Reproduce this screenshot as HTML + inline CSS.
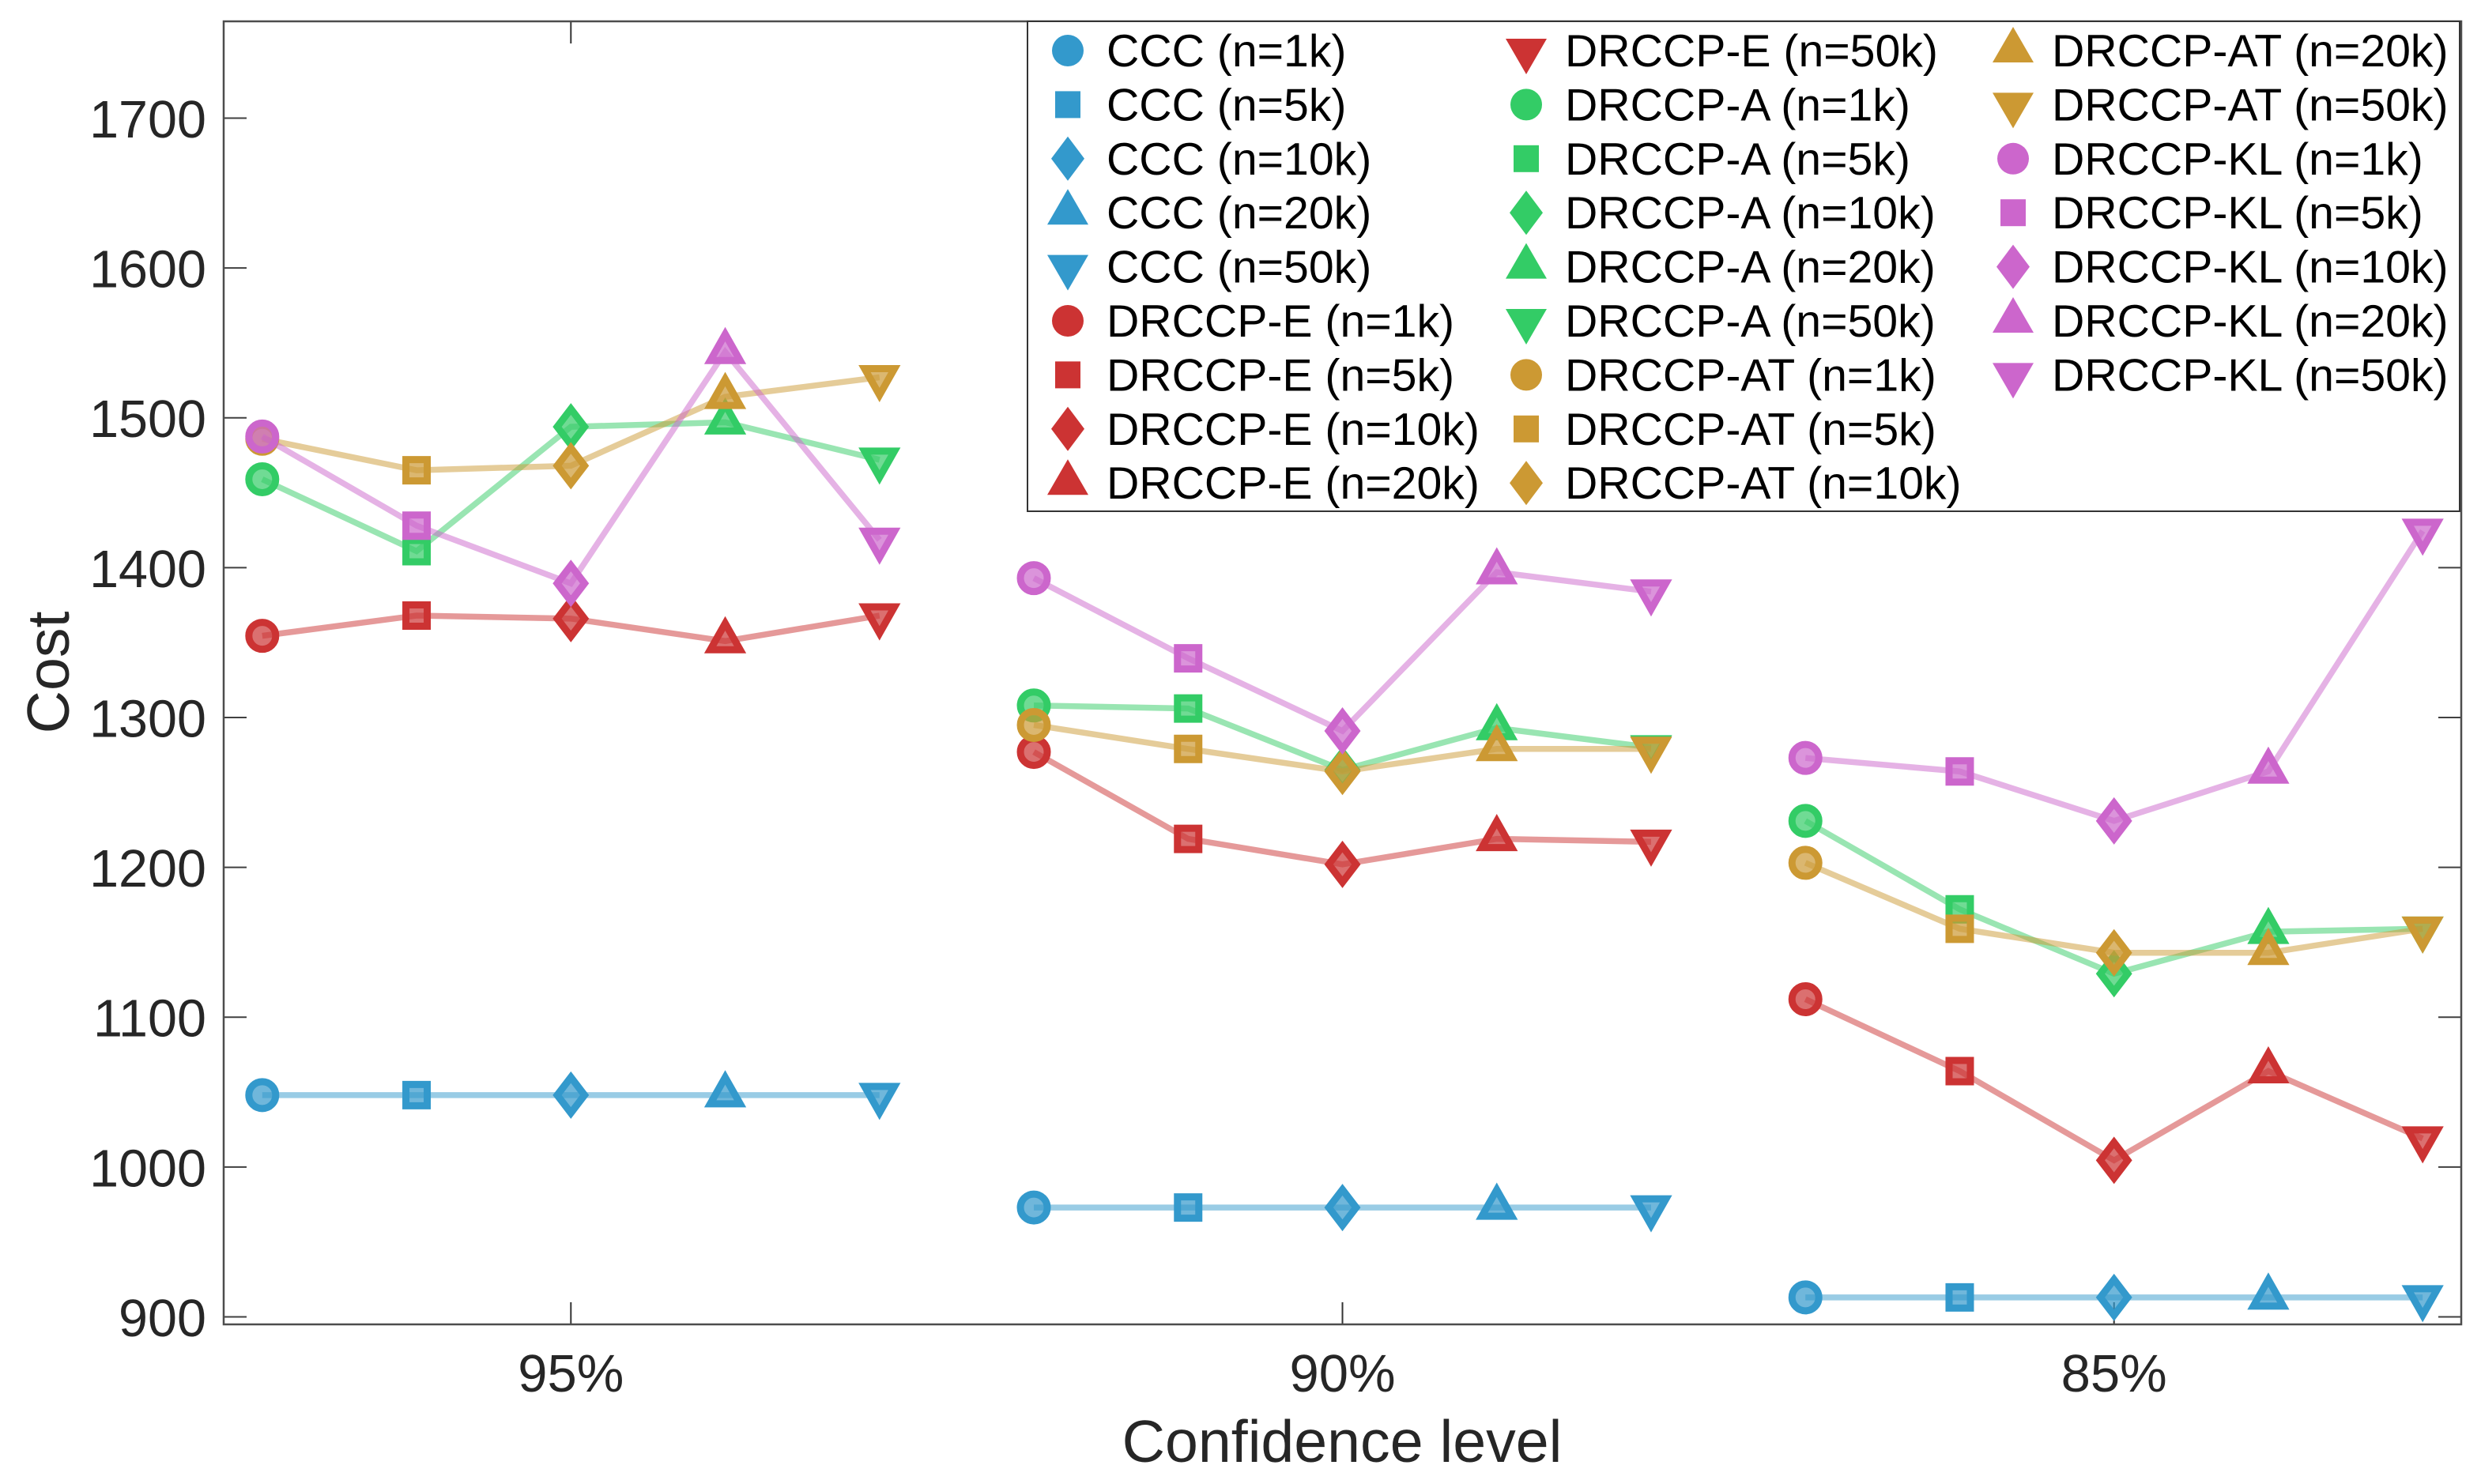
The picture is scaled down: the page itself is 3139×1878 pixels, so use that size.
<!DOCTYPE html>
<html lang="en">
<head>
<meta charset="utf-8">
<title>Cost vs confidence level</title>
<style>
html,body{margin:0;padding:0;background:#fff;width:3139px;height:1878px;overflow:hidden}
svg{display:block}
text{font-family:"Liberation Sans",Arial,sans-serif;fill:#262626}
</style>
</head>
<body>
<svg id="chart" xmlns="http://www.w3.org/2000/svg" width="3139" height="1878" viewBox="0 0 3139 1878"></svg>
<script>
const confidenceLabels = ['95%', '90%', '85%'];
const sampleSizes = ['n=1k', 'n=5k', 'n=10k', 'n=20k', 'n=50k'];
const methodNames = ['CCC', 'DRCCP-E', 'DRCCP-A', 'DRCCP-AT', 'DRCCP-KL'];
const methodColors = ['#3399CC', '#CC3333', '#33CC66', '#CC9933', '#CC66CC'];
const markerShapes = ['circle', 'square', 'diamond', 'up', 'down'];
const yTicks = [900, 1000, 1100, 1200, 1300, 1400, 1500, 1600, 1700];
const xTicks = [3, 8, 13];

const cccCosts = [
  [1048, 1048, 1048, 1048, 1048],
  [973, 973, 973, 973, 973],
  [913, 913, 913, 913, 913]
];
const drccpECosts = [
  [1354.5, 1368, 1366, 1351, 1368],
  [1277, 1219, 1202, 1219, 1217],
  [1112, 1064, 1004.5, 1064, 1019]
];
const drccpACosts = [
  [1459, 1411, 1494, 1497, 1472],
  [1308, 1306, 1265, 1293, 1280],
  [1231, 1172, 1129, 1157, 1159]
];
const drccpATCosts = [
  [1486, 1465, 1468, 1514, 1527],
  [1295, 1279, 1264, 1279, 1279],
  [1203, 1159, 1143, 1143, 1159]
];
const drccpKLCosts = [
  [1487.5, 1428, 1389.5, 1544, 1418.5],
  [1393, 1339.5, 1291, 1397, 1384],
  [1273, 1264, 1231, 1264, 1424.5]
];
const allCosts = [cccCosts, drccpECosts, drccpACosts, drccpATCosts, drccpKLCosts];

const NS = 'http://www.w3.org/2000/svg';
const svg = document.getElementById('chart');
const AX = {left: 283, right: 3114, top: 27, bottom: 1676};
const xDomain = [0.75, 15.25];
const yPerUnit = 1.8963;

function xScale(v) {
  return AX.left + (v - xDomain[0]) * (AX.right - AX.left) / (xDomain[1] - xDomain[0]);
}
function yScale(v) {
  return 1666.5 - (v - 900) * yPerUnit;
}
function make(tag, attrs, parent) {
  const el = document.createElementNS(NS, tag);
  for (const k in attrs) el.setAttribute(k, attrs[k]);
  (parent || svg).appendChild(el);
  return el;
}
function markerPoints(shape, cx, cy) {
  let pts;
  if (shape === 'square') pts = [[-13.5, -13.5], [13.5, -13.5], [13.5, 13.5], [-13.5, 13.5]];
  if (shape === 'diamond') pts = [[0, -22.6], [17.3, 0], [0, 22.6], [-17.3, 0]];
  if (shape === 'up') pts = [[0, -22.4], [18.9, 11], [-18.9, 11]];
  if (shape === 'down') pts = [[0, 22.4], [18.9, -11], [-18.9, -11]];
  return pts.map(p => (cx + p[0]) + ',' + (cy + p[1])).join(' ');
}
function drawMarker(shape, cx, cy, color, parent) {
  const style = {
    fill: color, 'fill-opacity': 0.7, stroke: color, 'stroke-width': 9,
    'stroke-linejoin': 'miter', 'stroke-miterlimit': 10
  };
  if (shape === 'circle') {
    return make('circle', Object.assign({cx: cx, cy: cy, r: 17}, style), parent);
  }
  return make('polygon', Object.assign({points: markerPoints(shape, cx, cy)}, style), parent);
}
function drawLegendMarker(shape, cx, cy, color, parent) {
  if (shape === 'circle') return make('circle', {cx: cx, cy: cy, r: 20, fill: color}, parent);
  if (shape === 'square') return make('rect', {x: cx - 16, y: cy - 17, width: 32, height: 34, fill: color}, parent);
  let pts;
  if (shape === 'diamond') pts = [[0, -28], [21, 0], [0, 28], [-21, 0]];
  if (shape === 'up') pts = [[0, -30], [26, 15], [-26, 15]];
  if (shape === 'down') pts = [[0, 30], [26, -15], [-26, -15]];
  return make('polygon', {points: pts.map(p => (cx + p[0]) + ',' + (cy + p[1])).join(' '), fill: color}, parent);
}

const axisColor = '#4d4d4d';

/* y ticks and labels */
yTicks.forEach(function (t) {
  const y = yScale(t);
  const left = make('line', {x1: AX.left, x2: AX.left + 29, y1: y, y2: y, stroke: '#404040', 'stroke-width': 2});
  
  
  const right = make('line', {x1: AX.right - 29, x2: AX.right, y1: y, y2: y, stroke: '#404040', 'stroke-width': 2});
  
  
  const label = make('text', {x: 261, y: y + 24.5, 'font-size': 66.5, 'text-anchor': 'end'});
  label.textContent = String(t);
  
  
});

/* x ticks and labels */
xTicks.forEach(function (t, i) {
  const x = xScale(t);
  const bottom = make('line', {x1: x, x2: x, y1: AX.bottom, y2: AX.bottom - 28, stroke: '#333', 'stroke-width': 2});
  
  
  const top = make('line', {x1: x, x2: x, y1: AX.top, y2: AX.top + 28, stroke: '#333', 'stroke-width': 2});
  
  
  const label = make('text', {x: x, y: 1761, 'font-size': 67, 'text-anchor': 'middle'});
  label.textContent = confidenceLabels[i];
  
  
});

/* series */
allCosts.forEach(function (groups, m) {
  const color = methodColors[m];
  groups.forEach(function (values, g) {
    const group = make('g', {});
    
    
    const pts = values.map(function (v, i) {
      return xScale(1 + g * 5 + i) + ',' + yScale(v);
    }).join(' ');
    const line = make('polyline', {
      points: pts, fill: 'none', stroke: color, 'stroke-opacity': 0.5,
      'stroke-width': 7.5, 'stroke-linejoin': 'miter'
    }, group);
    
    
    values.forEach(function (v, i) {
      const mk = drawMarker(markerShapes[i], xScale(1 + g * 5 + i), yScale(v), color, group);
      
      
    });
  });
});

/* axes box */
const box = make('rect', {
  x: AX.left, y: AX.top, width: AX.right - AX.left, height: AX.bottom - AX.top,
  fill: 'none', stroke: axisColor, 'stroke-width': 2.5
});



/* axis titles */
const xTitle = make('text', {x: 1698, y: 1850, 'font-size': 75.3, 'text-anchor': 'middle'});
xTitle.textContent = 'Confidence level';


const yTitle = make('text', {x: 0, y: 0, 'font-size': 75.3, 'text-anchor': 'middle', transform: 'translate(87 851) rotate(-90)'});
yTitle.textContent = 'Cost';



/* legend */
const legend = make('g', {});


const legendBox = make('rect', {x: 1300, y: 27, width: 1812, height: 620, fill: '#fff', stroke: '#333', 'stroke-width': 2}, legend);


const legendColumns = [1351, 1931, 2547];
let legendIndex = 0;
methodNames.forEach(function (name, m) {
  sampleSizes.forEach(function (size, i) {
    const col = legendIndex < 9 ? 0 : (legendIndex < 18 ? 1 : 2);
    const row = legendIndex % 9;
    const cy = 64 + row * 68.4;
    const entry = make('g', {}, legend);
    
    
    const mk = drawLegendMarker(markerShapes[i], legendColumns[col], cy, methodColors[m], entry);
    
    
    const tx = make('text', {x: legendColumns[col] + 49, y: cy + 20, 'font-size': 57.2}, entry);
    tx.style.fill = '#000';
    tx.textContent = name + ' (' + size + ')';
    
    
    legendIndex++;
  });
});
</script>
</body>
</html>
